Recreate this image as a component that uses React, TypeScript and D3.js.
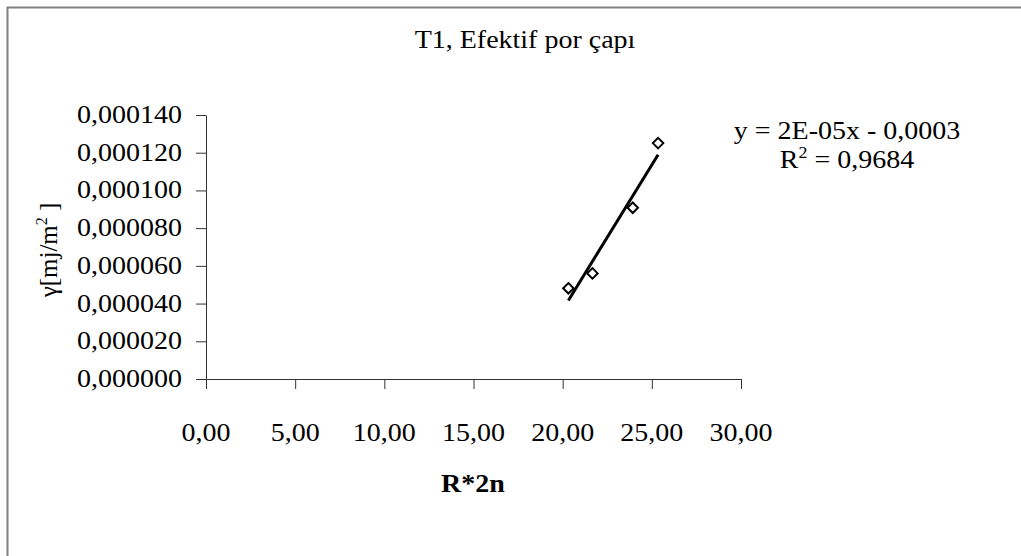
import React, { useEffect, useRef } from 'react';
import * as d3 from 'd3';

const xValues = [20.32, 21.67, 23.93, 25.35];
const yValues = [0.0000481, 0.000056, 0.0000908, 0.0001251];
const xTicks = [0, 5, 10, 15, 20, 25, 30];
const yTicks = [0, 0.00002, 0.00004, 0.00006, 0.00008, 0.0001, 0.00012, 0.00014];
const title = 'T1, Efektif por çapı';
const xTitle = 'R*2n';
const equation = 'y = 2E-05x - 0,0003';
const rSquared = ' = 0,9684';

const W = 1021;
const H = 556;
const FONT = '"Liberation Serif", "Times New Roman", serif';
const SIZE = 25;
const STRETCH = 1.12; // the original picture is a little wider than the font

const margin = { top: 115, right: 280, bottom: 177, left: 206 };

function App() {
  const ref = useRef<SVGSVGElement>(null);

  useEffect(() => {
    const svg = d3.select(ref.current);
    svg.selectAll('*').remove();

    const x = d3.scaleLinear().domain([0, 30]).range([margin.left, W - margin.right]);
    const y = d3.scaleLinear().domain([0, 0.00014]).range([H - margin.bottom, margin.top]);

    // chart frame (only left and top edges show in the picture)
    svg.append('path')
      .attr('d', `M7.5,${H} L7.5,7.5 L${W},7.5`)
      .attr('fill', 'none')
      .attr('stroke', '#808080')
      .attr('stroke-width', 2);

    // text helper, stretched a little horizontally
    const label = (str: string, px: number, py: number, anchor: string, size = SIZE, weight = 'normal') => {
      return svg.append('text')
        .attr('transform', `translate(${px},${py}) scale(${STRETCH},1)`)
        .attr('text-anchor', anchor)
        .attr('font-family', FONT)
        .attr('font-size', size)
        .attr('font-weight', weight)
        .attr('fill', '#000')
        .text(str);
    };

    // axes
    const xAxis = svg.append('g')
      .attr('transform', `translate(0,${y(0)})`)
      .call(d3.axisBottom(x).tickValues(xTicks).tickSize(10).tickSizeOuter(0).tickFormat(() => ''));
    const yAxis = svg.append('g')
      .attr('transform', `translate(${x(0)},0)`)
      .call(d3.axisLeft(y).tickValues(yTicks).tickSize(10).tickSizeOuter(0).tickFormat(() => ''));
    [xAxis, yAxis].forEach((a) => {
      a.selectAll('path, line').attr('stroke', '#333').attr('stroke-width', 1);
    });

    // tick labels
    xTicks.forEach((t) => {
      label(d3.format('.2f')(t).replace('.', ','), x(t), y(0) + 62, 'middle');
    });
    yTicks.forEach((t) => {
      label(d3.format('.6f')(t).replace('.', ','), x(0) - 24, y(t) + 8, 'end');
    });

    // titles
    label(title, 525, 48, 'middle');
    label(xTitle, 473, 492, 'middle', SIZE, 'bold');

    const yt = svg.append('text')
      .attr('transform', `translate(57,250) rotate(-90)`)
      .attr('text-anchor', 'middle')
      .attr('font-family', FONT)
      .attr('font-size', SIZE);
    yt.append('tspan').text('γ[mj/m');
    yt.append('tspan').attr('font-size', 16).attr('dy', -10).text('2');
    yt.append('tspan').attr('dy', 10).text(' ]');

    // trendline from least squares fit of the points
    const mx = d3.mean(xValues) as number;
    const my = d3.mean(yValues) as number;
    const sxy = d3.sum(xValues, (v, i) => (v - mx) * (yValues[i] - my));
    const sxx = d3.sum(xValues, (v) => (v - mx) * (v - mx));
    const slope = sxy / sxx;
    const intercept = my - slope * mx;
    const ends = d3.extent(xValues) as [number, number];
    svg.append('path')
      .attr('d', d3.line<number>().x((v) => x(v)).y((v) => y(slope * v + intercept))(ends))
      .attr('stroke', '#000')
      .attr('stroke-width', 3)
      .attr('fill', 'none');

    // diamond markers
    svg.selectAll('.pt')
      .data(xValues)
      .enter()
      .append('path')
      .attr('class', 'pt')
      .attr('d', d3.symbol().type(d3.symbolDiamond2).size(70))
      .attr('transform', (d, i) => `translate(${x(d)},${y(yValues[i])})`)
      .attr('fill', '#fff')
      .attr('stroke', '#000')
      .attr('stroke-width', 2);

    // equation and R squared
    label(equation, 847, 139, 'middle');
    const r2 = svg.append('text')
      .attr('transform', `translate(847,168) scale(${STRETCH},1)`)
      .attr('text-anchor', 'middle')
      .attr('font-family', FONT)
      .attr('font-size', SIZE);
    r2.append('tspan').text('R');
    r2.append('tspan').attr('font-size', 16).attr('dy', -10).text('2');
    r2.append('tspan').attr('dy', 10).text(rSquared);
  }, []);

  return (
    <svg
      ref={ref}
      width={W}
      height={H}
      style={{ position: 'absolute', left: 0, top: 0, background: '#fff' }}
    />
  );
}

export default App;
